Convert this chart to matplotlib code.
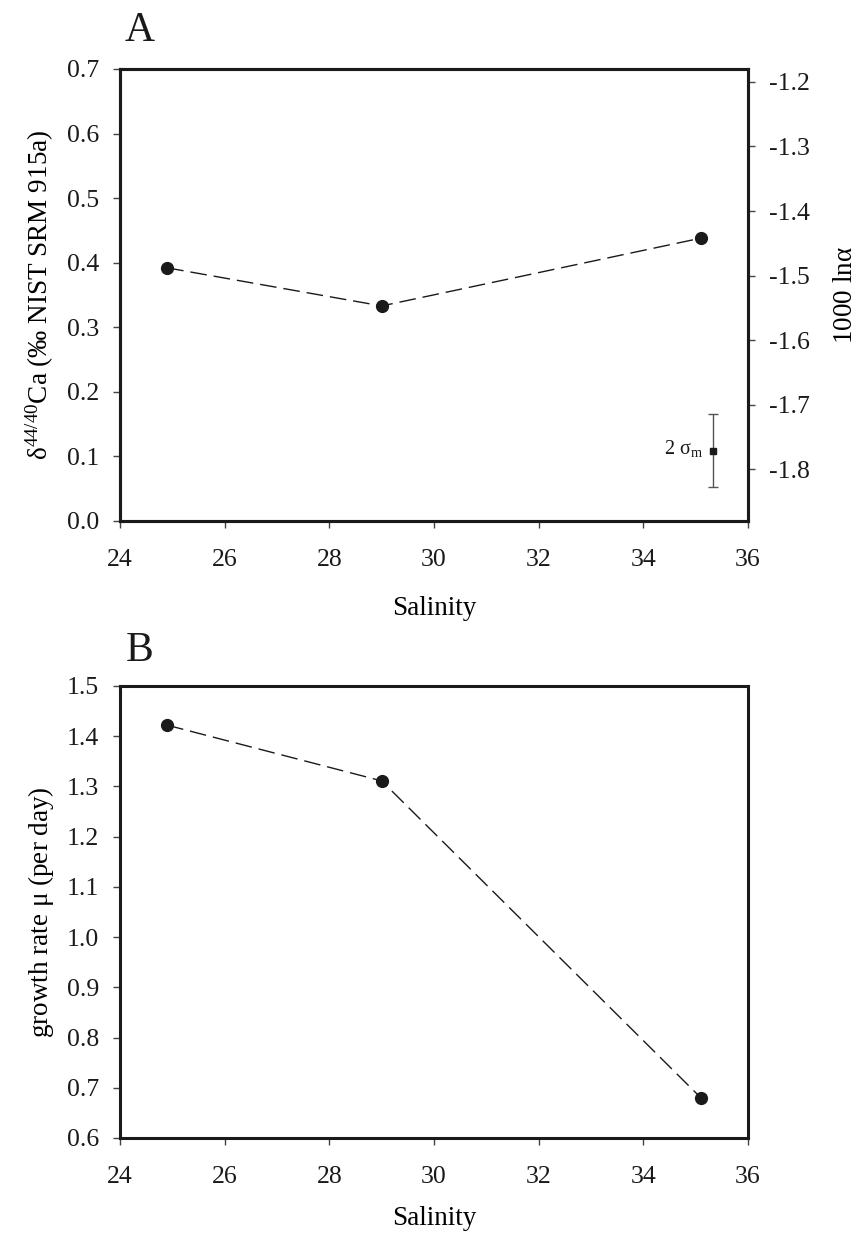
import matplotlib
matplotlib.use("Agg")
import matplotlib.pyplot as plt

plt.rcParams["font.family"] = ["Liberation Serif", "DejaVu Serif"]
plt.rcParams["mathtext.fontset"] = "custom"
plt.rcParams["mathtext.rm"] = "Liberation Serif"
plt.rcParams["mathtext.it"] = "Liberation Serif:italic"
plt.rcParams["mathtext.default"] = "rm"

# data
salinity = [24.9, 29.0, 35.1]
delta_ca = [0.392, 0.333, 0.438]
growth_rate = [1.422, 1.311, 0.680]

# 1000 ln(alpha) axis is the delta axis shifted by this amount
lnalpha_offset = -1.88

# 2 sigma_m error bar example
err_x = 35.33
err_y = 0.109
err_half = 0.057

x_ticks = [24, 26, 28, 30, 32, 34, 36]
a_ticks = [0.0, 0.1, 0.2, 0.3, 0.4, 0.5, 0.6, 0.7]
a_right_ticks = [-1.8, -1.7, -1.6, -1.5, -1.4, -1.3, -1.2]
b_ticks = [0.6, 0.7, 0.8, 0.9, 1.0, 1.1, 1.2, 1.3, 1.4, 1.5]

TICK_FS = 18.5
LABEL_FS = 19.5
DASH = (0, (12, 5))


def style_axis(ax):
    for sp in ax.spines.values():
        sp.set_linewidth(2.2)
        sp.set_color("#1a1a1a")
    ax.tick_params(direction="out", length=5, width=1, color="#444444",
                   labelsize=TICK_FS, labelcolor="#1a1a1a")
    ax.tick_params(axis="x", pad=15)
    ax.tick_params(axis="y", pad=10)


fig = plt.figure(figsize=(8.59, 12.36), dpi=100)

# panel A
ax = fig.add_axes([0.1397, 0.5785, 0.7311, 0.3657])
ax.plot(salinity, delta_ca, color="#1a1a1a", lw=1, linestyle=DASH,
        marker="o", ms=8.5, mfc="#1a1a1a", mec="#1a1a1a")
ax.errorbar([err_x], [err_y], yerr=[err_half], fmt="s", ms=5,
            color="#1a1a1a", ecolor="#555555", elinewidth=1, capsize=3.8,
            capthick=1)
ax.text(err_x - 0.2, err_y + 0.004, r"2 $\sigma_{\rm m}$", fontsize=14.5,
        ha="right", va="center", color="#1a1a1a")
ax.set_xlim(24, 36)
ax.set_ylim(0, 0.7)
ax.set_xticks(x_ticks)
ax.set_yticks(a_ticks)
ax.set_yticklabels([f"{v:.1f}" for v in a_ticks])
ax.set_xlabel("Salinity", fontsize=LABEL_FS, labelpad=18)
ax.set_ylabel(r"$\delta^{44/40}$Ca (‰ NIST SRM 915a)", fontsize=LABEL_FS,
              labelpad=8)
style_axis(ax)

ax2 = ax.twinx()
ax2.set_ylim(0 + lnalpha_offset, 0.7 + lnalpha_offset)
ax2.set_yticks(a_right_ticks)
ax2.set_yticklabels([f"{v:.1f}" for v in a_right_ticks])
ax2.set_ylabel(r"1000 ln$\alpha$", fontsize=LABEL_FS, labelpad=17)
style_axis(ax2)

# panel B
bx = fig.add_axes([0.1397, 0.0793, 0.7311, 0.3657])
bx.plot(salinity, growth_rate, color="#1a1a1a", lw=1, linestyle=DASH,
        marker="o", ms=8.5, mfc="#1a1a1a", mec="#1a1a1a")
bx.set_xlim(24, 36)
bx.set_ylim(0.6, 1.5)
bx.set_xticks(x_ticks)
bx.set_yticks(b_ticks)
bx.set_yticklabels([f"{v:.1f}" for v in b_ticks])
bx.set_xlabel("Salinity", fontsize=LABEL_FS, labelpad=13)
bx.set_ylabel(r"growth rate $\mu$ (per day)", fontsize=LABEL_FS, labelpad=8)
style_axis(bx)

fig.text(0.163, 0.9755, "A", fontsize=30, ha="center", va="center",
         color="#1a1a1a")
fig.text(0.162, 0.4735, "B", fontsize=30, ha="center", va="center",
         color="#1a1a1a")

fig.savefig("out.png", dpi=100)
